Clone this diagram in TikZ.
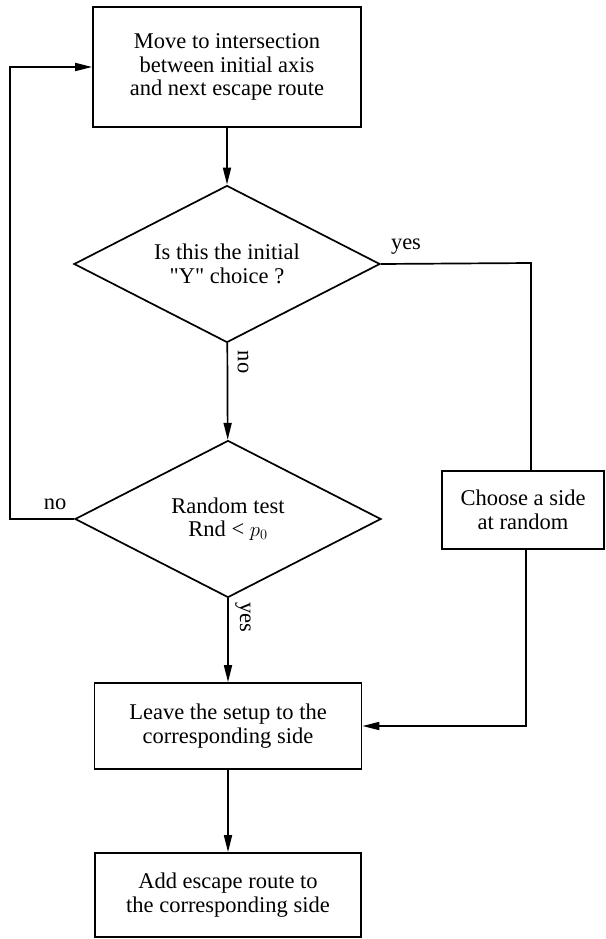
\documentclass[tikz,border=0pt]{standalone}
\usepackage{fontspec}
\setmainfont{Liberation Serif}
\usepackage{tikz}
\usetikzlibrary{shapes.geometric,arrows.meta}

\tikzset{
  block/.style={draw, rectangle, align=center, inner sep=0pt},
  decide/.style={draw, diamond, aspect=1.94, align=center, inner sep=0pt,
    minimum width=306pt, minimum height=157pt},
  flow/.style={-{Triangle[length=17pt,width=8pt]}},
  answer/.style={inner sep=0pt}
}

\begin{document}
\begin{tikzpicture}[x=1pt,y=-1pt,line width=1.7pt,
  font=\fontsize{22.5}{23.5}\selectfont]
\useasboundingbox (0,0) rectangle (605,939);

\node[block, minimum width=268pt, minimum height=120pt] (move) at (227,67)
  {Move to intersection\\between initial axis\\and next escape route};
\node[decide] (isY) at (227,264)
  {Is this the initial\\\textquotedbl Y\textquotedbl\ choice ?};
\node[decide] (rnd) at (228,519) {Random test\\Rnd < $p_0$};
\node[block, minimum width=162pt, minimum height=78pt] (choose) at (523,510)
  {Choose a side\\at random};
\node[block, minimum width=267pt, minimum height=86pt] (leave) at (228,726)
  {Leave the setup to the\\corresponding side};
\node[block, minimum width=266pt, minimum height=84pt] (add) at (228,895)
  {Add escape route to\\the corresponding side};

\coordinate (yesTurn) at (531,263);
\coordinate (sideIn) at (531,471);
\coordinate (sideOut) at (526,549);
\coordinate (backTurn) at (10,519);

% main column
\draw[flow] (move) -- (isY);
\draw[flow] (isY) -- (rnd);
\draw[flow] (rnd) -- (leave);
\draw[flow] (leave) -- (add);

% yes branch and loop back
\draw (isY.east) -- (yesTurn) -- (sideIn);
\draw[flow] (sideOut) |- (leave.east);
\draw[flow] (rnd.west) -- (backTurn) |- (move.west);

\node[answer] (yesA) at (406,247) {yes};
\node[answer, rotate=-90] (noA) at (243,362) {no};
\node[answer] (noB) at (55,504) {no};
\node[answer, rotate=-90] (yesB) at (243,617) {yes};
\end{tikzpicture}
\end{document}
